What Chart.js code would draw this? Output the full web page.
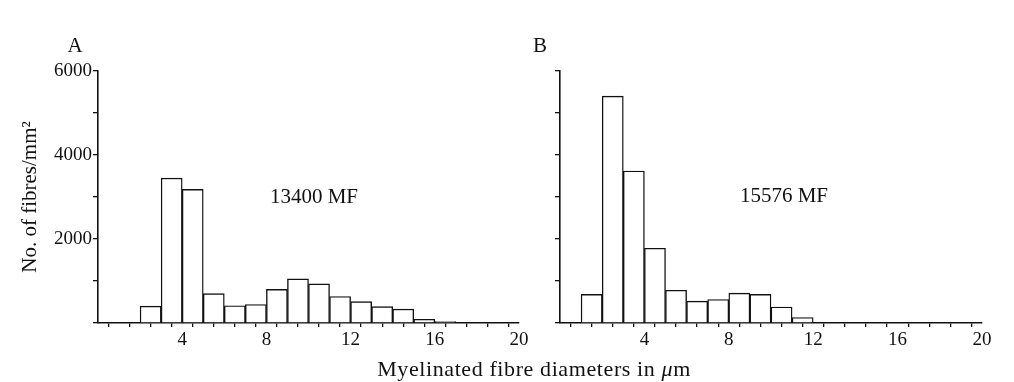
<!DOCTYPE html>
<html>
<head>
<meta charset="utf-8">
<script src="https://cdn.jsdelivr.net/npm/chart.js@4.4.1/dist/chart.umd.min.js"></script>
<style>
  body { margin: 0; background: #fff; }
  #wrap { position: relative; width: 1014px; height: 382px; font-family: "Liberation Serif", serif; color: #111; }
  .box { position: absolute; top: 0; height: 382px; }
  #boxA { left: 0; width: 540px; }
  #boxB { left: 540px; width: 474px; }
  .lbl { position: absolute; transform: translate(-50%, -50%); white-space: nowrap; font-size: 21px; }
</style>
</head>
<body>
<div id="wrap">
  <div class="box" id="boxA"><canvas id="chartA"></canvas></div>
  <div class="box" id="boxB"><canvas id="chartB"></canvas></div>
  <div class="lbl" style="left:75px;top:45px">A</div>
  <div class="lbl" style="left:540px;top:45px">B</div>
  <div class="lbl" style="left:314px;top:196px">13400 MF</div>
  <div class="lbl" style="left:784px;top:195px">15576 MF</div>
  <div class="lbl" style="left:534px;top:369px;font-size:22px;letter-spacing:0.6px">Myelinated fibre diameters in <i>μ</i>m</div>
</div>
<script>
// bin start (µm) and fibre counts per mm²
const binsA = [2, 3, 4, 5, 6, 7, 8, 9, 10, 11, 12, 13, 14, 15, 16];
const countsA = [400, 3450, 3180, 700, 410, 440, 800, 1050, 930, 630, 510, 390, 330, 90, 35];

const binsB = [1, 2, 3, 4, 5, 6, 7, 8, 9, 10, 11];
const countsB = [680, 5400, 3620, 1780, 780, 520, 560, 710, 680, 380, 130];

const yTicks = [2000, 4000, 6000];
const xTicks = [4, 8, 12, 16, 20];

const ink = '#111';
const serif = "'Liberation Serif', serif";

function makeChart(id, bins, counts, opts) {
  const points = bins.map((b, i) => ({ x: b + 0.5, y: counts[i] }));
  return new Chart(document.getElementById(id), {
    type: 'bar',
    data: {
      datasets: [{
        data: points,
        backgroundColor: '#fff',
        borderColor: ink,
        borderWidth: 1.4,
        borderSkipped: 'bottom',
        barPercentage: 1,
        categoryPercentage: 1
      }]
    },
    options: {
      responsive: true,
      maintainAspectRatio: false,
      animation: false,
      layout: { padding: { top: 71, right: opts.right, bottom: 0, left: 0 } },
      plugins: { legend: { display: false }, tooltip: { enabled: false } },
      scales: {
        x: {
          type: 'linear',
          min: 0, max: 20,
          offset: false,
          grid: { drawOnChartArea: false, color: ink, tickLength: 4, lineWidth: 1.3 },
          border: { color: ink, width: 1.6 },
          ticks: {
            stepSize: 1, autoSkip: false, maxRotation: 0, padding: 2,
            color: ink, font: { family: serif, size: 19 },
            callback: v => xTicks.includes(v) ? v : ''
          },
          afterFit: s => { s.height = 59; }
        },
        y: {
          min: 0, max: 6000,
          grid: { drawOnChartArea: false, color: ink, tickLength: 5, lineWidth: 1.3 },
          border: { color: ink, width: 1.6 },
          ticks: {
            stepSize: 1000, padding: 1, display: opts.yLabels,
            color: ink, font: { family: serif, size: 19 },
            callback: v => yTicks.includes(v) ? v : ''
          },
          title: {
            display: opts.yLabels,
            text: 'No. of fibres/mm²',
            color: ink,
            font: { family: serif, size: 21 },
            padding: { top: 18, bottom: 0 }
          },
          afterFit: s => { s.width = opts.yWidth; }
        }
      }
    }
  });
}

makeChart('chartA', binsA, countsA, { right: 21, yWidth: 98, yLabels: true });
makeChart('chartB', binsB, countsB, { right: 32, yWidth: 20, yLabels: false });
</script>
</body>
</html>
